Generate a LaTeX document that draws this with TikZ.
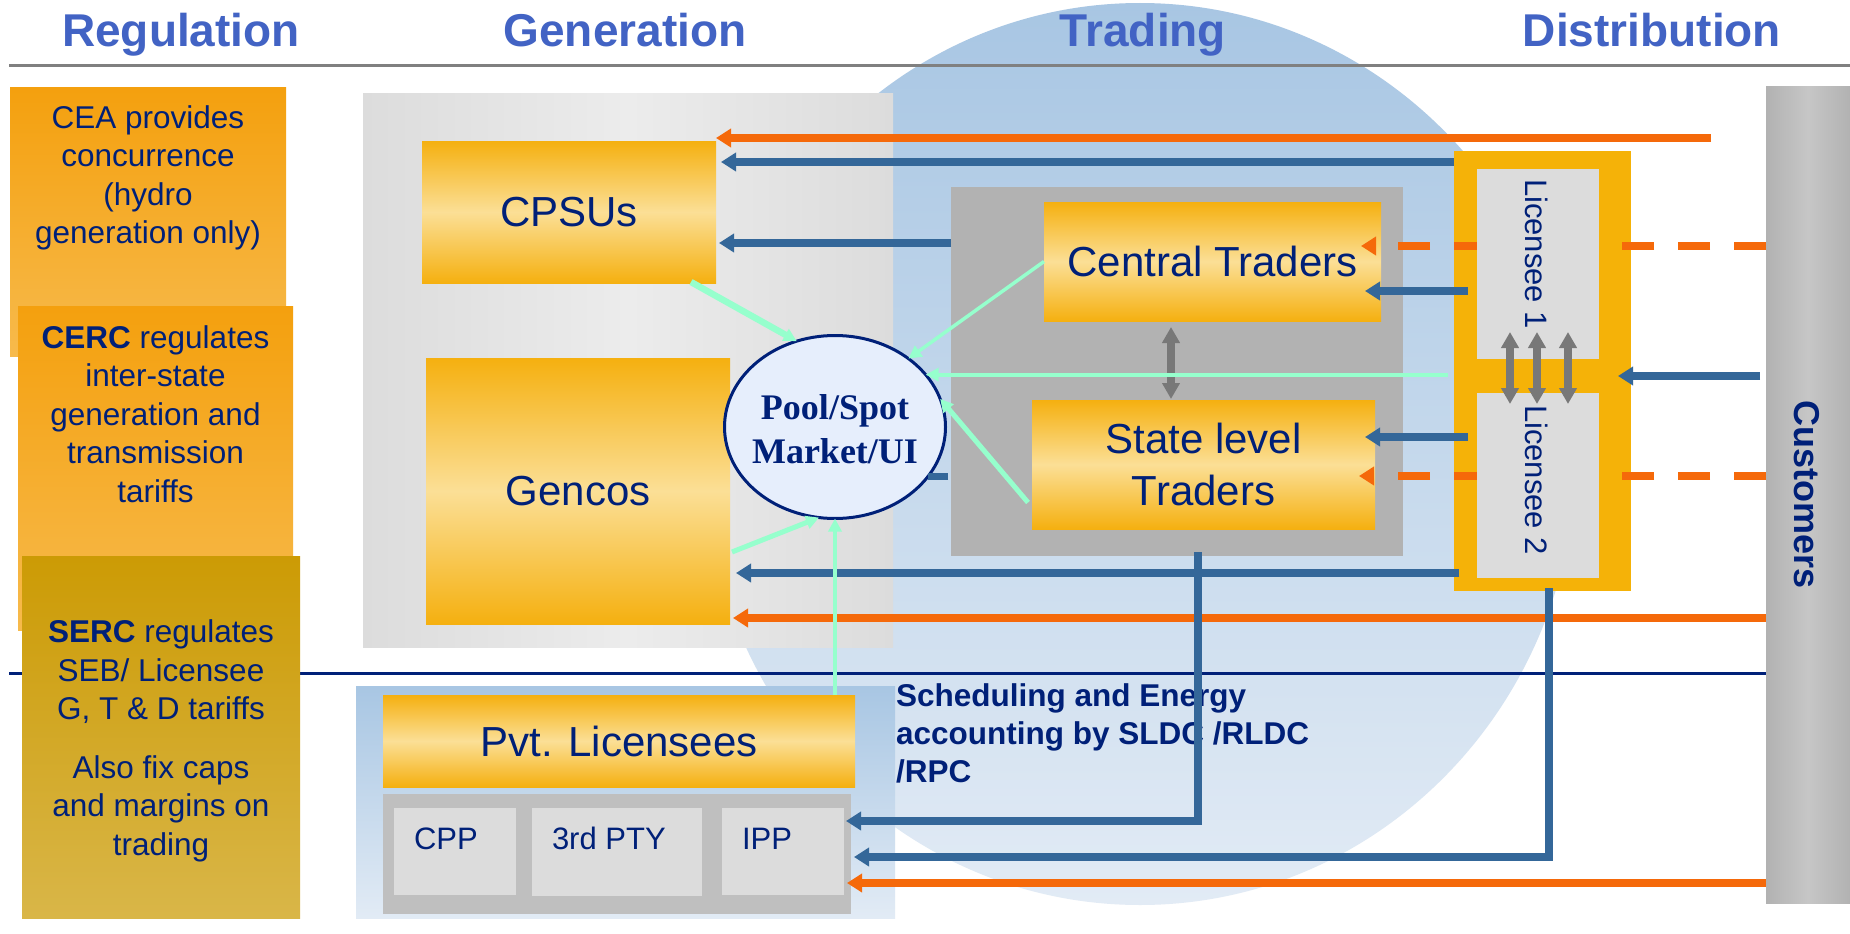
\documentclass[tikz,border=0pt]{standalone}
\usepackage{fontspec}
\setmainfont{Liberation Sans}
\newfontfamily\poolserif{Liberation Serif}
\usetikzlibrary{arrows.meta,calc,shapes.geometric}
\newcommand{\setfs}[2]{\fontsize{#1}{#2}\selectfont}

\definecolor{navy}{RGB}{0,32,120}
\definecolor{headblue}{RGB}{66,99,196}
\definecolor{flowblue}{RGB}{52,103,153}
\definecolor{flowor}{RGB}{245,105,10}
\definecolor{mint}{RGB}{150,255,205}
\definecolor{amber}{RGB}{245,176,16}
\definecolor{amberlight}{RGB}{251,223,150}
\definecolor{panelgray}{RGB}{220,220,220}
\definecolor{panellight}{RGB}{236,236,236}
\definecolor{tradegray}{RGB}{178,178,178}
\definecolor{custgray}{RGB}{178,178,178}
\definecolor{custlight}{RGB}{198,198,198}
\definecolor{skytop}{RGB}{168,198,227}
\definecolor{skybottom}{RGB}{226,235,245}
\definecolor{regtop}{RGB}{244,160,14}
\definecolor{regbot}{RGB}{247,186,76}
\definecolor{sertop}{RGB}{204,155,5}
\definecolor{serbot}{RGB}{217,182,72}
\definecolor{subgray}{RGB}{191,191,191}
\definecolor{arrowgray}{RGB}{120,120,120}
\definecolor{rulegray}{RGB}{128,128,128}
\definecolor{poolfill}{RGB}{230,238,252}
\definecolor{licamber}{RGB}{245,178,8}

\tikzset{
  every node/.style={inner sep=0pt, outer sep=0pt},
  heading/.style={text=headblue, font=\bfseries\setfs{46}{55}, anchor=base},
  block/.style={rectangle, text=navy},
  amberbox/.style={block, top color=amber, bottom color=amber, middle color=amberlight,
                   font=\setfs{42}{52}, align=center},
  regbox/.style={block, top color=regtop, bottom color=regbot},
  sercbox/.style={block, top color=sertop, bottom color=serbot},
  regtext/.style={text=navy, font=\setfs{31.5}{38.5}, align=center},
  smalllabel/.style={text=navy, font=\setfs{31}{36}, anchor=west},
  liclabel/.style={text=navy, font=\setfs{31}{36}, rotate=-90},
  blueflow/.style={draw=flowblue, line width=8pt, -{Triangle[length=15pt,width=18pt]}},
  orangeflow/.style={draw=flowor, line width=8pt, -{Triangle[length=15pt,width=18pt]}},
  orangedash/.style={orangeflow, dash pattern=on 32pt off 24pt},
  mintflow/.style={draw=mint, line width=#1, -{Triangle[length=13pt,width=13pt]}},
  grayboth/.style={draw=arrowgray, line width=7.5pt,
                   {Triangle[length=16pt,width=17pt]}-{Triangle[length=16pt,width=17pt]}},
}

\begin{document}
\begin{tikzpicture}[x=1pt,y=-1pt]
\useasboundingbox (0,0) rectangle (1850,934);
\fill[white] (0,0) rectangle (1850,934);

% trading sphere in the background
\node[ellipse, minimum width=872pt, minimum height=902pt, top color=skytop, bottom color=skybottom] (sphere) at (1140,454) {};

% column rules
\draw[draw=rulegray, line width=3pt] (9,66) -- (1850,66);
\draw[draw=navy, line width=3pt] (9,673) -- (1766,673);

% column headings
\node[heading] (hreg) at (181,47) {Regulation};
\node[heading] (hgen) at (625,47) {Generation};
\node[heading] (htrade) at (1143,47) {Trading};
\node[heading] (hdist) at (1652,47) {Distribution};

% regulators
\node[regbox, minimum width=276pt, minimum height=269pt] (cea) at (148,221.5) {};
\node[regtext] (ceatext) at (148,178) {CEA provides\\concurrence\\(hydro\\generation only)};
\node[regbox, minimum width=275pt, minimum height=324pt] (cerc) at (155.5,468) {};
\node[regtext] (cerctext) at (155.5,414) {\textbf{CERC} regulates\\inter-state\\generation and\\transmission\\tariffs};
\node[sercbox, minimum width=278pt, minimum height=362pt] (serc) at (161,737) {};
\node[regtext] (serctext) at (161,741) {\textbf{SERC} regulates\\SEB/ Licensee\\G, T \& D tariffs\\[20pt]Also fix caps\\and margins on\\trading};

% generation
\node[block, minimum width=530pt, minimum height=554pt, left color=panelgray, right color=panelgray, middle color=panellight] (genpanel) at (628,370) {};
\node[amberbox, minimum width=294pt, minimum height=142pt] (cpsu) at (569,212) {CPSUs};
\node[amberbox, minimum width=304pt, minimum height=266pt] (gencos) at (578,491) {Gencos};

% private licensees
\node[block, minimum width=539pt, minimum height=232pt, top color=skytop, bottom color=skybottom] (pvtpanel) at (625.5,802) {};
\node[amberbox, minimum width=472pt, minimum height=92pt] (pvt) at (619,741) {Pvt. Licensees};
\node[block, fill=subgray, minimum width=468pt, minimum height=120pt] (subpanel) at (617,854) {};
\node[block, fill=panelgray, minimum width=122pt, minimum height=87pt] (cpp) at (455,851.5) {};
\node[block, fill=panelgray, minimum width=170pt, minimum height=88pt] (third) at (617,852) {};
\node[block, fill=panelgray, minimum width=122pt, minimum height=87pt] (ipp) at (783,851.5) {};
\node[smalllabel] (cpplbl) at ($(cpp.west)+(20,-13)$) {CPP};
\node[smalllabel] (thirdlbl) at ($(third.west)+(20,-14)$) {3rd PTY};
\node[smalllabel] (ipplbl) at ($(ipp.west)+(20,-13)$) {IPP};

% traders
\node[block, fill=tradegray, minimum width=452pt, minimum height=369pt] (tradepanel) at (1177,371.5) {};
\node[amberbox, minimum width=337pt, minimum height=119pt] (ctr) at (1212.5,261.5) {Central Traders};
\node[amberbox, minimum width=343pt, minimum height=129pt] (sltr) at (1203.5,464.5) {State level\\Traders};

% distribution licensees and customers
\node[block, fill=licamber, minimum width=177pt, minimum height=440pt] (licframe) at (1542.5,371) {};
\node[block, minimum width=84pt, minimum height=817pt, left color=custgray, right color=custgray, middle color=custlight] (cust) at (1808,494.5) {};
\node[text=navy, font=\bfseries\setfs{36}{40}, rotate=-90] (custlbl) at (1807,495) {Customers};

% system operator note
\node[anchor=north west, text=navy, font=\bfseries\setfs{31.5}{38}, align=left] (sched) at (896,684) {Scheduling and Energy\\accounting by SLDC /RLDC\\/RPC};

% money and power flows
\coordinate (orstart) at (1711,138);
\draw[orangeflow] (orstart) -- (cpsu.east |- orstart);
\draw[blueflow] (licframe.west |- 0,162) -- ($(cpsu.east |- 0,162)+(5,0)$);
\draw[blueflow] (tradepanel.west |- 0,243) -- ($(cpsu.east |- 0,243)+(3,0)$);
\draw[orangedash] (cust.west |- 0,246) -- ($(ctr.east |- 0,246)+(-20,0)$);
\draw[blueflow] ($(licframe.west |- 0,291)+(14,0)$) -- ($(ctr.east |- 0,291)+(-16,0)$);
\draw[blueflow] ($(cust.west |- 0,376)+(-6,0)$) -- ($(licframe.east |- 0,376)+(-13,0)$);
\draw[blueflow] ($(licframe.west |- 0,437)+(14,0)$) -- ($(sltr.east |- 0,437)+(-10,0)$);
\draw[orangedash] (cust.west |- 0,476) -- ($(sltr.east |- 0,476)+(-16,0)$);
\draw[blueflow] ($(licframe.west |- 0,573)+(5,0)$) -- ($(gencos.east |- 0,573)+(6,0)$);
\draw[orangeflow] (cust.west |- 0,618) -- ($(gencos.east |- 0,618)+(3,0)$);
\draw[blueflow] ($(tradepanel.south)+(21,-4)$) |- ($(ipp.east |- 0,821)+(2,0)$);
\draw[blueflow] ($(licframe.south)+(6.5,-3)$) |- ($(subpanel.east |- 0,857)+(3,0)$);
\draw[orangeflow] (cust.west |- 0,883) -- ($(subpanel.east |- 0,883)+(-4,0)$);

% licensee panels
\node[block, fill=panelgray, minimum width=122pt, minimum height=190pt] (lic1) at (1538,264) {};
\node[block, fill=panelgray, minimum width=122pt, minimum height=185pt] (lic2) at (1538,485.5) {};
\node[liclabel] (lic1lbl) at (1537,254) {Licensee 1};
\node[liclabel] (lic2lbl) at (1537,480) {Licensee 2};

% exchanges between traders and between licensees
\draw[grayboth] ($(1171,0 |- ctr.south)+(0,6)$) -- ($(1171,0 |- sltr.north)+(0,-1)$);
\foreach \lx in {1510,1537,1568}
  \draw[grayboth] ($(\lx,0 |- lic1.south)+(0,-27)$) -- ($(\lx,0 |- lic2.north)+(0,11)$);

% pool / spot market
\node[ellipse, draw=navy, line width=3pt, fill=poolfill, minimum width=221pt, minimum height=183pt] (pool) at (835,427) {};
\node[text=navy, font=\poolserif\bfseries\setfs{36}{44}, align=center] (poollbl) at ($(pool.center)+(0,2)$) {Pool/Spot\\Market/UI};
\draw[mintflow=6.5pt] ($(cpsu.south east)+(-25,-1)$) -- (pool.114);
\draw[mintflow=3.5pt] (ctr.west) -- (pool.43);
\draw[mintflow=4pt] ($(licframe.west |- pool.30)+(-6,0)$) -- (pool.30);
\draw[mintflow=5pt] ($(sltr.west)+(-4,38)$) -- (pool.15);
\draw[mintflow=5pt] ($(gencos.east)+(2,61)$) -- (pool.260);
\draw[mintflow=3.5pt] (pool.south |- pvt.north) -- (pool.south);
\draw[draw=flowblue, line width=7pt] ($(tradepanel.west |- 0,476)+(-3,0)$) -- ($(tradepanel.west |- 0,476)+(-23,0)$);
\end{tikzpicture}
\end{document}
